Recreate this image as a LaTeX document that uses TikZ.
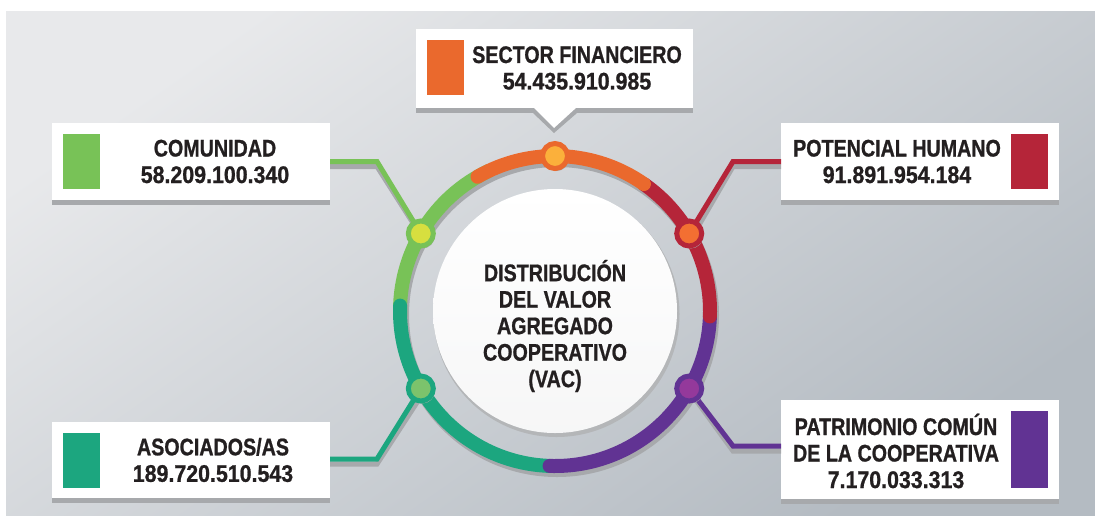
\documentclass[tikz,border=0pt]{standalone}
\usepackage{fontspec}
\setmainfont{Liberation Sans}
\newfontfamily\lblfont{Liberation Sans}[FakeStretch=0.82, BoldFeatures={FakeBold=0.9}]
\newfontfamily\numfont{Liberation Sans}[FakeStretch=0.89, BoldFeatures={FakeBold=0.9}]
\usetikzlibrary{shadows}
\definecolor{bglight}{HTML}{E8E9EB}
\definecolor{bgdark}{HTML}{B4BBC2}
\definecolor{shadowgray}{HTML}{A7A9AC}
\definecolor{txt}{HTML}{231F20}
\definecolor{corange}{HTML}{EA692D}
\definecolor{cgreen}{HTML}{78C257}
\definecolor{cred}{HTML}{B52539}
\definecolor{cteal}{HTML}{1CA67F}
\definecolor{cpurple}{HTML}{613393}
\definecolor{dorange}{HTML}{FBB03B}
\definecolor{dgreen}{HTML}{D7DF3F}
\definecolor{dred}{HTML}{F36F32}
\definecolor{dteal}{HTML}{7CC36C}
\definecolor{dpurple}{HTML}{94399B}
\begin{document}
\begin{tikzpicture}[x=1pt,y=1pt,
  box/.style={fill=white, draw=none, inner sep=0pt, outer sep=0pt, minimum width=278pt, minimum height=77pt,
    drop shadow={shadow xshift=0pt, shadow yshift=-5pt, fill=shadowgray, opacity=1}},
  sq/.style={draw=none, inner sep=0pt, minimum width=37pt, minimum height=55pt},
  lbl/.style={text=txt, align=center, inner sep=0pt, font=\lblfont\bfseries\fontsize{24}{26.5}\selectfont},
  conn/.style={line width=5pt, line join=miter},
  connshadow/.style={line width=5pt, draw=shadowgray, line join=miter},
  seg/.style={line width=14pt, line cap=round},
  dot/.style={circle, inner sep=0pt, minimum size=25pt, line width=5pt,
    drop shadow={shadow xshift=1.5pt, shadow yshift=-2.5pt, fill=shadowgray, opacity=1}}
]
\useasboundingbox (0,0) rectangle (1095,-515);
% background
\shade[top color=bglight, bottom color=bgdark, shading angle=35] (6,-11) rectangle (1095,-515);

% points on ring
\coordinate (c) at (555,-311);
\coordinate (p90) at (555,-156);
\coordinate (p150) at (420.8,-233.5);
\coordinate (p30) at (689.2,-233.5);
\coordinate (p210) at (420.8,-388.5);
\coordinate (p330) at (689.2,-388.5);
\coordinate (b150) at (377,-161.5);
\coordinate (b210) at (377,-459);
\coordinate (b30) at (733,-161.5);
\coordinate (b330) at (733,-446);

% boxes
\fill[shadowgray] (533,-113) -- (577,-113) -- (554,-133) -- cycle;
\node[box, minimum width=277pt, minimum height=79pt] (fin) at (554.5,-68.5) {};
\fill[white] (533,-107) -- (577,-107) -- (554,-128) -- cycle;
\node[box] (com) at (191,-161.5) {};
\node[box] (pot) at (920,-161.5) {};
\node[box, minimum height=76pt] (aso) at (191,-460) {};
\node[box, minimum height=99pt] (pat) at (920,-449.5) {};

% connectors
\draw[connshadow] ([shift={(0,-5)}]com.east) -- ([shift={(0,-5)}]b150) -- ([shift={(2,-5)}]p150);
\draw[connshadow] ([shift={(0,-5)}]aso.east |- b210) -- ([shift={(0,-5)}]b210) -- ([shift={(2,-5)}]p210);
\draw[connshadow] ([shift={(0,-5)}]pot.west) -- ([shift={(0,-5)}]b30) -- ([shift={(2,-5)}]p30);
\draw[connshadow] ([shift={(0,-5)}]pat.west |- b330) -- ([shift={(0,-5)}]b330) -- ([shift={(2,-5)}]p330);
\draw[conn, cgreen] (com.east) -- (b150) -- (p150);
\draw[conn, cteal] (aso.east |- b210) -- (b210) -- (p210);
\draw[conn, cred] (pot.west) -- (b30) -- (p30);
\draw[conn, cpurple] (pat.west |- b330) -- (b330) -- (p330);

% ring shadow
\draw[shadowgray, line width=14pt] ([shift={(2,-4)}]c) circle[radius=155pt];
% ring segments
\draw[line width=14pt, cgreen] ([shift={(c)}]115:155pt) arc[start angle=115, end angle=182, radius=155pt];
\draw[seg, cteal] ([shift={(c)}]178:155pt) arc[start angle=178, end angle=268, radius=155pt];
\draw[seg, cpurple] ([shift={(c)}]-92:155pt) arc[start angle=-92, end angle=-2, radius=155pt];
\draw[seg, cred] ([shift={(c)}]-2:155pt) arc[start angle=-2, end angle=55, radius=155pt];
\draw[seg, corange] ([shift={(c)}]55:155pt) arc[start angle=55, end angle=120, radius=155pt];

% inner circle
\fill[shadowgray!85] ([shift={(1.5,-3)}]c) circle[radius=123pt];
\shade[top color=white, bottom color=white!90!shadowgray] (c) circle[radius=122pt];
\node[lbl] (ctext) at (555,-326) {DISTRIBUCIÓN\\DEL VALOR\\AGREGADO\\COOPERATIVO\\(VAC)};

% dots
\node[dot, draw=corange, fill=dorange] (d90) at (p90) {};
\node[dot, draw=cgreen, fill=dgreen] (d150) at (p150) {};
\node[dot, draw=cred, fill=dred] (d30) at (p30) {};
\node[dot, draw=cteal, fill=dteal] (d210) at (p210) {};
\node[dot, draw=cpurple, fill=dpurple] (d330) at (p330) {};

% squares
\node[sq, fill=corange] (finsq) at (445.5,-67.5) {};
\node[sq, fill=cgreen] (comsq) at (81.5,-161.5) {};
\node[sq, fill=cred] (potsq) at (1029.5,-161.5) {};
\node[sq, fill=cteal] (asosq) at (81.5,-460.5) {};
\node[sq, fill=cpurple, minimum height=77pt] (patsq) at (1029.5,-449.5) {};

% texts
\node[lbl] (fint) at (577,-68) {SECTOR FINANCIERO\\{\numfont 54.435.910.985}};
\node[lbl] (comt) at (215,-161.5) {COMUNIDAD\\{\numfont 58.209.100.340}};
\node[lbl] (pott) at (897,-161.5) {POTENCIAL HUMANO\\{\numfont 91.891.954.184}};
\node[lbl] (asot) at (213,-460) {ASOCIADOS/AS\\{\numfont 189.720.510.543}};
\node[lbl] (patt) at (896,-451) {PATRIMONIO COMÚN\\DE LA COOPERATIVA\\{\numfont 7.170.033.313}};
\end{tikzpicture}
\end{document}
